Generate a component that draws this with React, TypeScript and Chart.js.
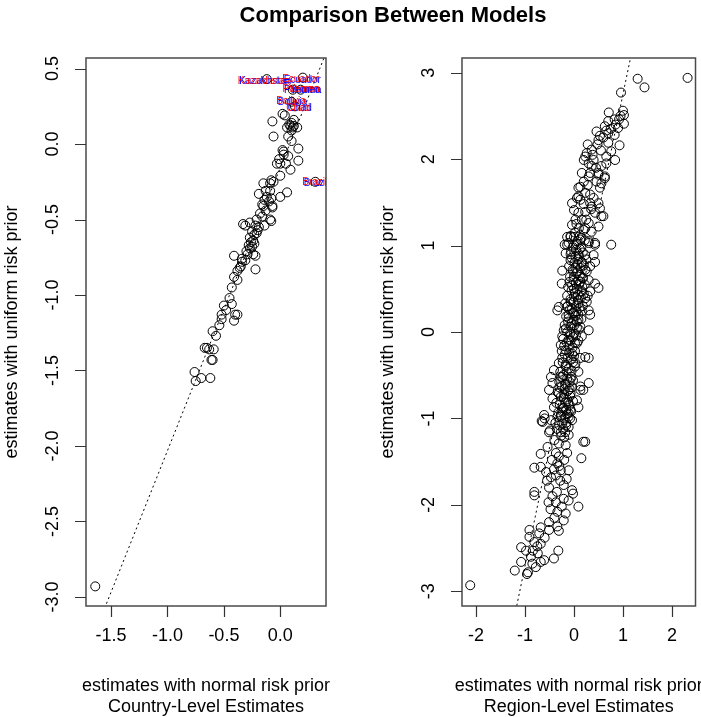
import React, { useEffect, useRef } from "react";
import { Chart, registerables } from "chart.js";

Chart.register(...registerables);

const WIDTH = 701;
const HEIGHT = 717;
const FONT = '"Liberation Sans", Arial, Helvetica, sans-serif';

const mainTitle = "Comparison Between Models";
const xAxisTitle = "estimates with normal risk prior";
const yAxisTitle = "estimates with uniform risk prior";

// ---------- Country-level estimates ----------
const countryXTicks = [-1.5, -1.0, -0.5, 0.0];
const countryYTicks = [-3.0, -2.5, -2.0, -1.5, -1.0, -0.5, 0.0, 0.5];
const countryXRange = [-1.722, 0.405];
const countryYRange = [-3.06, 0.57];
const countryFit = [-0.156, 1.875]; // intercept, slope

const countryNormal = [
  -0.12, 0.20, 0.11, 0.18, 0.10, 0.13, 0.04, 0.12, -0.07, 0.09,
  0.11, 0.10, 0.06, -0.06, 0.07, 0.10, 0.16, 0.02, 0.03, 0.07,
  -0.01, -0.03, 0.00, 0.16, 0.05, 0.09, 0.00, -0.08, -0.06, -0.09,
  -0.15, 0.31, 0.06, 0.00, -0.19, -0.12, -0.14, -0.16, -0.10, -0.08,
  -0.07, -0.18, -0.13, -0.21, -0.16, -0.08, -0.33, -0.27, -0.22, -0.19,
  -0.14, -0.25, -0.21, -0.27, -0.24, -0.28, -0.25, -0.30, -0.24, -0.41,
  -0.34, -0.35, -0.38, -0.22, -0.41, -0.38, -0.43, -0.45, -0.50, -0.48,
  -0.52, -0.43, -0.38, -0.41, -0.52, -0.54, -0.60, -0.57, -0.67, -0.65,
  -0.59, -0.63, -0.61, -0.60, -0.76, -0.75, -0.70, -0.62, -1.64, 0.03,
  -0.09, -0.13, -0.15, -0.07, -0.09, -0.31, -0.22, -0.34, -0.40, -0.23,
  -0.26, -0.27, -0.23, -0.20, -0.29, -0.31, -0.36, 0.08, 0.10, 0.12,
  0.15, 0.02,
];
const countryUniform = [
  0.43, 0.44, 0.36, 0.36, 0.28, 0.25, 0.19, 0.16, 0.15, 0.12,
  0.11, 0.09, 0.11, 0.05, 0.05, 0.02, -0.03, -0.04, -0.05, -0.08,
  -0.10, -0.13, -0.13, -0.11, -0.13, -0.17, -0.21, -0.24, -0.25, -0.26,
  -0.26, -0.25, -0.32, -0.35, -0.33, -0.35, -0.37, -0.40, -0.38, -0.36,
  -0.41, -0.46, -0.44, -0.50, -0.48, -0.51, -0.53, -0.52, -0.54, -0.55,
  -0.54, -0.58, -0.59, -0.62, -0.64, -0.67, -0.68, -0.71, -0.73, -0.74,
  -0.78, -0.81, -0.84, -0.83, -0.88, -0.90, -0.95, -1.02, -1.07, -1.10,
  -1.13, -1.06, -1.13, -1.17, -1.16, -1.20, -1.24, -1.27, -1.35, -1.35,
  -1.36, -1.36, -1.43, -1.43, -1.51, -1.57, -1.55, -1.55, -2.93, -0.07,
  -0.31, -0.31, -0.41, -0.42, -0.50, -0.54, -0.74, -0.76, -1.13, -0.60,
  -0.65, -0.69, -0.66, -0.57, -0.73, -0.77, -0.82, 0.13, 0.14, 0.12,
  0.11, 0.20,
];

// Named countries flagged on the country panel
const flaggedNames = ["Kazakhstan", "Ecuador", "Panama", "Yemen", "Bolivia", "Chad", "Brazil"];
const flaggedNormal = [-0.142, 0.186, 0.19, 0.215, 0.10, 0.164, 0.31];
const flaggedUniform = [0.416, 0.429, 0.36, 0.36, 0.283, 0.239, -0.255];

// ---------- Region-level estimates ----------
const regionXTicks = [-2, -1, 0, 1, 2];
const regionYTicks = [-3, -2, -1, 0, 1, 2, 3];
const regionXRange = [-2.288, 2.482];
const regionYRange = [-3.17, 3.17];
const regionFit = [0.023, 2.727]; // intercept, slope

const regionNormal = [
  1.30, 1.44, 2.32, 0.96, 1.00, 1.02, 0.71, 0.83, 0.70, 0.92,
  1.02, 0.90, 0.63, 0.46, 0.53, 0.66, 0.83, 0.70, 0.28, 0.48,
  0.93, 0.36, 0.26, 0.76, 0.20, 0.30, 0.40, 0.66, 0.84, 0.36,
  0.56, 0.66, 0.16, 0.30, 0.50, 0.63, 0.46, 0.56, 0.09, 0.20,
  0.53, 0.33, 0.06, 0.13, 0.50, 0.36, 0.53, 0.00, 0.09, 0.23,
  0.43, 0.60, 0.03, 0.16, 0.30, -0.04, 0.50, 0.23, 0.36, -0.07,
  0.13, 0.30, 0.43, 0.76, -0.14, 0.33, 0.56, 0.09, -0.04, -0.14,
  -0.19, 0.23, 0.13, 0.33, 0.23, 0.50, 0.70, 0.50, 0.63, -0.07,
  0.15, -0.11, 0.00, 0.30, 0.43, -0.17, -0.07, 0.09, 0.23, 0.40,
  -0.07, 0.16, 0.43, -0.24, 0.03, 0.23, 0.33, -0.25, 0.00, 0.09,
  0.30, 0.43, 0.50, -0.04, 0.06, 0.16, 0.33, 0.00, 0.23, -0.07,
  0.09, 0.26, -0.31, -0.34, -0.14, 0.30, 0.16, 0.33, 0.00, -0.11,
  0.09, -0.07, 0.13, 0.30, -0.21, 0.00, 0.16, -0.24, -0.11, 0.06,
  -0.27, 0.23, 0.13, -0.17, -0.04, -0.31, -0.17, 0.03, -0.41, 0.09,
  0.30, -0.47, -0.24, -0.07, -0.44, -0.17, 0.13, -0.51, -0.31, -0.07,
  0.19, -0.44, -0.17, 0.06, -0.41, -0.21, -0.07, -0.61, -0.34, -0.11,
  -0.66, -0.47, -0.27, -0.11, -0.04, -0.24, -0.11, -0.51, -0.27, -0.11,
  0.19, -0.31, -0.17, -0.54, -0.68, -0.37, -0.14, 0.15, -0.31, -0.34,
  -0.81, -0.68, -0.57, -0.41, -0.27, -0.11, -0.47, -0.37, -0.21, -0.51,
  -0.81, -0.81, -0.04, -0.44, -0.52, -0.37, -0.21, -0.11, -0.02, 0.09,
  -0.34, -0.17, -0.21, -0.51, -0.68, -0.34, -0.31, -0.51, -0.91, -0.71,
  -0.91, -0.81, -0.68, -1.08, -0.98, -0.84, -0.74, -0.32, -0.88, -1.08,
  -0.78, -0.61, -0.41, -0.68, -1.21, -0.94, -0.96, -2.12, 0.30, 0.13,
  0.09, 0.23, -0.60, -0.64, -0.49,
  // dense middle of the band
  0.05, 0.10, 0.02, 0.12, 0.20, 0.07, 0.15, 0.22, -0.02, 0.04,
  0.10, 0.18, 0.25, -0.05, 0.01, 0.07, 0.13, 0.20, -0.10, -0.02,
  0.05, 0.12, 0.18, -0.08, -0.01, 0.04, 0.10, 0.17, -0.12, -0.05,
  0.02, 0.08, 0.14, 0.20, -0.14, -0.07, -0.01, 0.05, 0.11, 0.18,
  -0.18, -0.09, -0.03, 0.03, 0.09, 0.15, -0.16, -0.12, -0.05, 0.01,
  0.06, 0.10, -0.19, -0.14, -0.08, -0.02, 0.04, 0.09, -0.22, -0.15,
  -0.09, -0.03, 0.02, -0.25, -0.19, -0.13, -0.06, 0.00, -0.23, -0.17,
  -0.11, -0.05, 0.02, -0.28, -0.22, -0.14, -0.09, -0.02, -0.30, -0.25,
  -0.19, -0.12, -0.04, -0.33, -0.27, -0.21, -0.14, -0.08, -0.36, -0.29,
  -0.23, -0.16, -0.10, -0.02, -0.32, -0.26, -0.19, -0.14, -0.06, -0.38,
  -0.30, -0.22, -0.16, -0.08, -0.26, -0.20, -0.35, -0.18,
  0.00, 0.06, 0.12, -0.06, 0.03, 0.09, 0.15, -0.03, 0.07, 0.13,
  -0.09, 0.00, 0.08, -0.13, -0.04, 0.05, -0.11, -0.01, 0.06, -0.17,
  -0.07, 0.02, -0.20, -0.10, -0.02, -0.24, -0.15, -0.05, -0.27, -0.18,
  -0.09, -0.30, -0.20, -0.12, -0.24, -0.16, 0.18, 0.22, 0.26, 0.28,
  // lower tail
  -0.40, -0.45, -0.30, -0.20, -0.55, -0.28, -0.35, -0.15, -0.48, -0.25,
  -0.40, -0.60, -0.75, -0.85,
  // upper tail
  0.25, 0.35, 0.20, 0.40, 0.28, 0.45, 0.38, 0.55, 0.60, 0.75,
  0.85, 0.95,
];
const regionUniform = [
  2.93, 2.83, 2.94, 2.77, 2.56, 2.51, 2.54, 2.46, 2.44, 2.46,
  2.41, 2.36, 2.38, 2.32, 2.27, 2.33, 2.28, 2.19, 2.17, 2.17,
  2.16, 2.11, 2.07, 2.09, 1.99, 1.95, 1.99, 2.03, 1.99, 1.92,
  1.92, 1.95, 1.84, 1.80, 1.82, 1.80, 1.74, 1.72, 1.67, 1.74,
  1.67, 1.59, 1.55, 1.53, 1.49, 1.45, 1.43, 1.41, 1.38, 1.39,
  1.38, 1.34, 1.30, 1.30, 1.26, 1.24, 1.22, 1.20, 1.16, 1.10,
  1.07, 1.05, 1.03, 1.01, 1.01, 1.49, 1.34, 1.57, 1.49, 1.10,
  1.01, 1.61, 1.68, 1.84, 2.03, 2.22, 2.30, 1.84, 1.78, 1.11,
  1.09, 1.03, 1.01, 1.03, 1.01, 0.91, 0.90, 0.91, 0.89, 0.89,
  0.83, 0.81, 0.81, 0.71, 0.74, 0.72, 0.76, 0.56, 0.64, 0.60,
  0.60, 0.56, 0.51, 0.54, 0.49, 0.47, 0.47, 0.41, 0.39, 0.35,
  0.33, 0.35, 0.29, 0.25, 0.29, 0.25, 0.24, 0.20, 0.22, 0.16,
  0.14, 0.06, 0.06, 0.02, 0.02, -0.02, -0.05, -0.05, -0.09, -0.13,
  -0.15, -0.29, -0.30, -0.21, -0.25, -0.36, -0.40, -0.36, -0.44, -0.46,
  -0.59, -0.52, -0.52, -0.54, -0.59, -0.61, -0.63, -0.67, -0.71, -0.71,
  -0.67, -0.77, -0.81, -0.79, -0.87, -0.88, -0.90, -0.96, -0.98, -0.98,
  -1.03, -1.02, -0.98, -0.94, -1.02, -1.06, -1.10, -1.16, -1.16, -1.19,
  -1.27, -1.29, -1.31, -1.33, -1.41, -1.40, -1.40, -1.46, -1.44, -1.52,
  -1.57, -1.56, -1.62, -1.59, -1.60, -1.60, -1.68, -1.66, -1.77, -1.80,
  -1.85, -1.89, -1.83, -1.90, -1.97, -1.97, -1.93, -1.95, -1.87, -2.02,
  -2.08, -2.10, -2.18, -2.20, -2.26, -2.25, -2.30, -2.29, -2.29, -2.33,
  -2.37, -2.43, -2.45, -2.49, -2.53, -2.53, -2.56, -2.53, -2.60, -2.66,
  -2.72, -2.64, -2.62, -2.66, -2.76, -2.78, -2.80, -2.93, -0.30, -0.67,
  -0.87, -1.27, -1.00, -1.04, -1.14,
  // dense middle of the band
  1.25, 1.20, 1.15, 1.12, 1.18, 1.05, 0.98, 1.06, 0.98, 0.95,
  0.88, 0.92, 0.84, 0.86, 0.80, 0.78, 0.74, 0.77, 0.76, 0.70,
  0.68, 0.66, 0.63, 0.64, 0.60, 0.57, 0.55, 0.52, 0.52, 0.48,
  0.45, 0.43, 0.40, 0.44, 0.42, 0.38, 0.34, 0.30, 0.28, 0.30,
  0.33, 0.26, 0.22, 0.19, 0.20, 0.15, 0.18, 0.12, 0.10, 0.08,
  0.12, 0.03, 0.08, 0.00, -0.02, -0.06, -0.04, -0.10, -0.08, -0.12,
  -0.16, -0.18, -0.22, -0.22, -0.26, -0.30, -0.32, -0.28, -0.35, -0.38,
  -0.42, -0.45, -0.40, -0.46, -0.50, -0.54, -0.58, -0.56, -0.58, -0.63,
  -0.66, -0.68, -0.64, -0.70, -0.75, -0.76, -0.78, -0.74, -0.82, -0.84,
  -0.88, -0.90, -0.85, -0.80, -0.93, -0.96, -1.00, -0.95, -0.92, -1.05,
  -1.08, -1.12, -1.05, -1.00, -1.20, -1.22, -1.12, -1.16,
  1.10, 1.02, 0.96, 0.93, 0.87, 0.84, 0.80, 0.72, 0.70, 0.58,
  0.58, 0.50, 0.37, 0.30, 0.27, 0.24, 0.20, 0.14, 0.05, 0.04,
  -0.10, -0.13, -0.16, -0.24, -0.35, -0.30, -0.46, -0.52, -0.52, -0.60,
  -0.66, -0.64, -0.72, -0.82, -0.92, -1.08, 0.62, 0.55, 0.70, 0.42,
  // lower tail
  -1.25, -1.48, -1.55, -1.48, -1.72, -1.72, -1.85, -1.70, -2.05, -2.02,
  -2.15, -2.38, -2.48, -2.68,
  // upper tail
  1.30, 1.42, 1.48, 1.55, 1.70, 1.90, 2.05, 2.10, 2.25, 2.35,
  2.40, 2.50,
];

type Panel = {
  xs: number[];
  ys: number[];
  xRange: number[];
  yRange: number[];
  xTicks: number[];
  yTicks: number[];
  decimals: number;
  fit: number[];
  subtitle: string;
  area: { left: number; top: number; right: number; bottom: number };
  names?: string[];
  nameX?: number[];
  nameY?: number[];
  showTitle?: boolean;
};

const fmt = (v: number, d: number) => {
  const s = v.toFixed(d);
  return s === "-0.0" ? "0.0" : s;
};

function panelPlugin(p: Panel) {
  return {
    id: "panelDecor",
    afterDatasetsDraw(chart: any) {
      const ctx: CanvasRenderingContext2D = chart.ctx;
      const xs = chart.scales.x;
      const ys = chart.scales.y;
      const a = chart.chartArea;
      // country name labels, clipped to the plot region
      if (p.names && p.nameX && p.nameY) {
        ctx.save();
        ctx.beginPath();
        ctx.rect(a.left, a.top, a.right - a.left, a.bottom - a.top);
        ctx.clip();
        ctx.font = `10px ${FONT}`;
        ctx.textAlign = "center";
        ctx.textBaseline = "middle";
        p.names.forEach((name, i) => {
          const px = xs.getPixelForValue(p.nameX![i]);
          const py = ys.getPixelForValue(p.nameY![i]);
          ctx.fillStyle = "#0000ff";
          ctx.fillText(name, px + 1, py + 0.5);
          ctx.fillStyle = "#ff0000";
          ctx.fillText(name, px - 0.5, py);
        });
        ctx.restore();
      }
    },
    afterDraw(chart: any) {
      const ctx: CanvasRenderingContext2D = chart.ctx;
      const xs = chart.scales.x;
      const ys = chart.scales.y;
      const a = chart.chartArea;
      ctx.save();
      // plot frame
      ctx.strokeStyle = "#4a4a4a";
      ctx.lineWidth = 1.5;
      ctx.strokeRect(a.left, a.top, a.right - a.left, a.bottom - a.top);
      // ticks
      ctx.strokeStyle = "#333";
      ctx.lineWidth = 1.2;
      ctx.beginPath();
      p.xTicks.forEach((v) => {
        const px = Math.round(xs.getPixelForValue(v)) + 0.5;
        ctx.moveTo(px, a.bottom);
        ctx.lineTo(px, a.bottom + 11);
      });
      p.yTicks.forEach((v) => {
        const py = Math.round(ys.getPixelForValue(v)) + 0.5;
        ctx.moveTo(a.left, py);
        ctx.lineTo(a.left - 11, py);
      });
      ctx.stroke();
      // tick labels
      ctx.fillStyle = "#000";
      ctx.font = `18px ${FONT}`;
      ctx.textAlign = "center";
      ctx.textBaseline = "middle";
      p.xTicks.forEach((v) => {
        ctx.fillText(fmt(v, p.decimals), xs.getPixelForValue(v), a.bottom + 30);
      });
      p.yTicks.forEach((v) => {
        ctx.save();
        ctx.translate(a.left - 33, ys.getPixelForValue(v));
        ctx.rotate(-Math.PI / 2);
        ctx.fillText(fmt(v, p.decimals), 0, 0);
        ctx.restore();
      });
      // axis titles
      const cx = (a.left + a.right) / 2;
      const cy = (a.top + a.bottom) / 2;
      ctx.fillText(xAxisTitle, cx, a.bottom + 80);
      ctx.fillText(p.subtitle, cx, a.bottom + 101);
      ctx.save();
      ctx.translate(a.left - 74, cy);
      ctx.rotate(-Math.PI / 2);
      ctx.fillText(yAxisTitle, 0, 0);
      ctx.restore();
      if (p.showTitle) {
        ctx.font = `bold 22px ${FONT}`;
        ctx.fillText(mainTitle, 393, 16);
      }
      ctx.restore();
    },
  };
}

function makeChart(canvas: HTMLCanvasElement, p: Panel) {
  const points = p.xs.map((x, i) => ({ x, y: p.ys[i] }));
  const x0 = p.xRange[0] - 1;
  const x1 = p.xRange[1] + 1;
  const fitLine = [
    { x: x0, y: p.fit[0] + p.fit[1] * x0 },
    { x: x1, y: p.fit[0] + p.fit[1] * x1 },
  ];
  return new Chart(canvas, {
    type: "scatter",
    data: {
      datasets: [
        {
          data: points,
          pointStyle: "circle",
          pointRadius: 4.5,
          pointHoverRadius: 4.5,
          borderColor: "#000",
          backgroundColor: "rgba(0,0,0,0)",
          borderWidth: 1,
          clip: false,
        } as any,
        {
          data: fitLine,
          showLine: true,
          pointRadius: 0,
          borderColor: "#000",
          borderWidth: 1,
          borderDash: [2, 3],
          fill: false,
          clip: 0,
        } as any,
      ],
    },
    options: {
      responsive: false,
      animation: false,
      devicePixelRatio: 1,
      events: [],
      layout: {
        padding: {
          left: p.area.left,
          top: p.area.top,
          right: WIDTH - p.area.right,
          bottom: HEIGHT - p.area.bottom,
        },
      },
      scales: {
        x: { type: "linear", display: false, min: p.xRange[0], max: p.xRange[1] },
        y: { type: "linear", display: false, min: p.yRange[0], max: p.yRange[1] },
      },
      plugins: {
        legend: { display: false },
        tooltip: { enabled: false },
        title: { display: false },
      },
    },
    plugins: [panelPlugin(p)],
  });
}

export default function App() {
  const leftRef = useRef<HTMLCanvasElement | null>(null);
  const rightRef = useRef<HTMLCanvasElement | null>(null);

  useEffect(() => {
    const left = makeChart(leftRef.current!, {
      xs: countryNormal,
      ys: countryUniform,
      xRange: countryXRange,
      yRange: countryYRange,
      xTicks: countryXTicks,
      yTicks: countryYTicks,
      decimals: 1,
      fit: countryFit,
      subtitle: "Country-Level Estimates",
      area: { left: 86, top: 58, right: 326, bottom: 606 },
      names: flaggedNames,
      nameX: flaggedNormal,
      nameY: flaggedUniform,
      showTitle: true,
    });
    const right = makeChart(rightRef.current!, {
      xs: regionNormal,
      ys: regionUniform,
      xRange: regionXRange,
      yRange: regionYRange,
      xTicks: regionXTicks,
      yTicks: regionYTicks,
      decimals: 0,
      fit: regionFit,
      subtitle: "Region-Level Estimates",
      area: { left: 462, top: 58, right: 699, bottom: 606 },
    });
    return () => {
      left.destroy();
      right.destroy();
    };
  }, []);

  return (
    <div
      style={{
        position: "fixed",
        left: 0,
        top: 0,
        width: WIDTH,
        height: HEIGHT,
        background: "#fff",
        overflow: "hidden",
      }}
    >
      <canvas
        ref={leftRef}
        width={WIDTH}
        height={HEIGHT}
        style={{ position: "absolute", left: 0, top: 0 }}
      />
      <canvas
        ref={rightRef}
        width={WIDTH}
        height={HEIGHT}
        style={{ position: "absolute", left: 0, top: 0, pointerEvents: "none" }}
      />
    </div>
  );
}
